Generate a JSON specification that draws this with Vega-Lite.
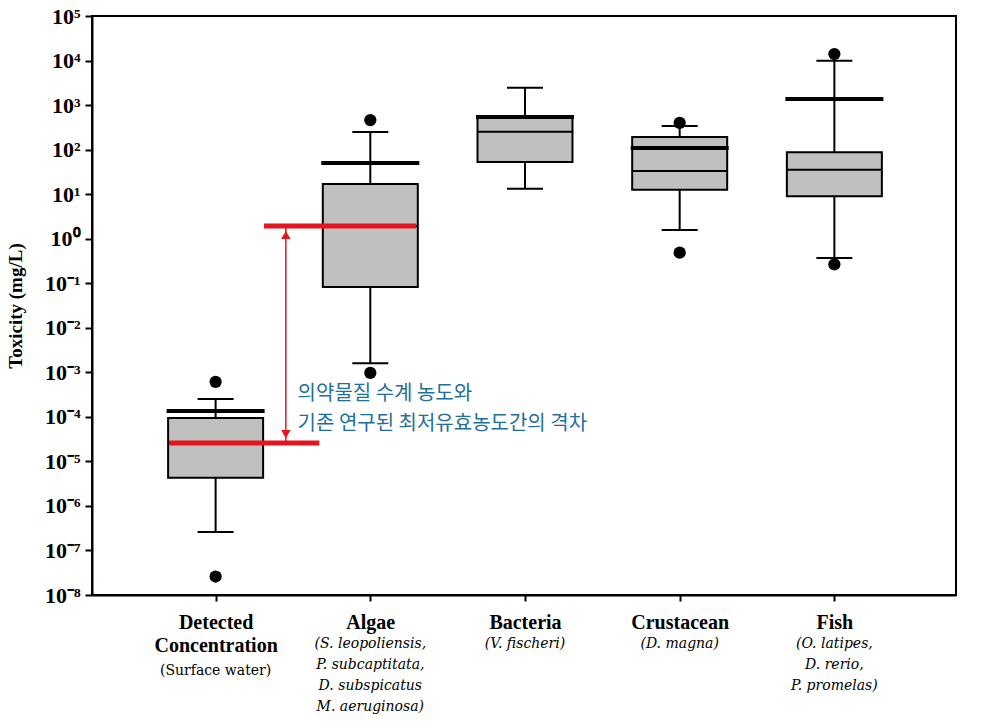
{
  "$schema": "https://vega.github.io/schema/vega-lite/v6.json",
  "autosize": "none",
  "width": 864,
  "height": 579,
  "padding": {"left": 92, "top": 16, "right": 36, "bottom": 128},
  "background": "white",
  "config": {
    "view": {"stroke": "black", "strokeWidth": 2},
    "axis": {"grid": false}
  },
  "datasets": {
    "boxes": [
      {"cat": "Detected Concentration", "x": 1, "lo": 2.6e-7, "q1": 4.3e-6, "med": 2.6e-5, "q3": 9.4e-5, "hi": 2.5e-4, "mean": 1.35e-4},
      {"cat": "Algae", "x": 2, "lo": 1.6e-3, "q1": 0.082, "med": 1.93, "q3": 16.9, "hi": 248, "mean": 50},
      {"cat": "Bacteria", "x": 3, "lo": 13.2, "q1": 52.8, "med": 253, "q3": 545, "hi": 2450, "mean": 540},
      {"cat": "Crustacean", "x": 4, "lo": 1.57, "q1": 12.6, "med": 33, "q3": 192, "hi": 340, "mean": 109},
      {"cat": "Fish", "x": 5, "lo": 0.37, "q1": 8.95, "med": 35.5, "q3": 87, "hi": 9950, "mean": 1370}
    ],
    "outliers": [
      {"x": 1, "v": 6.1e-4}, {"x": 1, "v": 2.6e-8},
      {"x": 2, "v": 460}, {"x": 2, "v": 9.7e-4},
      {"x": 4, "v": 400}, {"x": 4, "v": 0.485},
      {"x": 5, "v": 14000}, {"x": 5, "v": 0.266}
    ],
    "redlines": [
      {"x": 0.70, "x2": 1.671, "y": 2.6e-5},
      {"x": 1.313, "x2": 2.297, "y": 1.93}
    ],
    "arrow": [{"x": 1.454, "y": 1.93, "y2": 2.6e-5}],
    "heads": [
      {"x": 1.454, "y": 1.21, "end": "top"},
      {"x": 1.454, "y": 4.1e-5, "end": "bottom"}
    ],
    "note": [
      {"x": 1.53, "y": 3.2e-4, "t": "의약물질 수계 농도와"},
      {"x": 1.53, "y": 6.8e-5, "t": "기존 연구된 최저유효농도간의 격차"}
    ],
    "subs": [
      {"x": 1, "style": "normal", "t": "(Surface water)"},
      {"x": 2, "style": "italic", "t": "(S. leopoliensis,\nP. subcaptitata,\nD. subspicatus\nM. aeruginosa)"},
      {"x": 3, "style": "italic", "t": "(V. fischeri)"},
      {"x": 4, "style": "italic", "t": "(D. magna)"},
      {"x": 5, "style": "italic", "t": "(O. latipes,\nD. rerio,\nP. promelas)"}
    ]
  },
  "encoding": {
    "x": {
      "field": "x", "type": "quantitative",
      "scale": {"domain": [0.2332, 5.754], "nice": false, "zero": false},
      "axis": {
        "values": [1, 2, 3, 4, 5],
        "title": null,
        "labelExpr": "datum.value == 1 ? ['Detected', 'Concentration'] : datum.value == 2 ? 'Algae' : datum.value == 3 ? 'Bacteria' : datum.value == 4 ? 'Crustacean' : 'Fish'",
        "labelFont": "Liberation Serif",
        "labelFontWeight": "bold",
        "labelFontSize": 20,
        "labelColor": "black",
        "labelLineHeight": 23,
        "labelPadding": 11,
        "labelBaseline": "top",
        "domainColor": "black",
        "domainWidth": 2,
        "tickColor": "black",
        "tickWidth": 2,
        "tickSize": 6
      }
    }
  },
  "layer": [
    {
      "data": {"name": "boxes"},
      "mark": {"type": "rule", "color": "black", "strokeWidth": 2},
      "encoding": {
        "y": {
          "field": "hi", "type": "quantitative",
          "scale": {"type": "log", "domain": [1e-8, 100000], "nice": false},
          "axis": {
            "values": [1e-8, 1e-7, 1e-6, 1e-5, 1e-4, 1e-3, 1e-2, 1e-1, 1, 10, 100, 1000, 10000, 100000],
            "labelExpr": "'10' + ['⁻⁸','⁻⁷','⁻⁶','⁻⁵','⁻⁴','⁻³','⁻²','⁻¹','⁰','¹','²','³','⁴','⁵'][round(log(datum.value)/LN10) + 8]",
            "title": "Toxicity (mg/L)",
            "titleFont": "Liberation Serif",
            "titleFontSize": 19,
            "titleFontWeight": "bold",
            "titleColor": "black",
            "titlePadding": 19,
            "labelFont": "Liberation Serif",
            "labelFontWeight": "bold",
            "labelFontSize": 22,
            "labelColor": "black",
            "labelPadding": 5,
            "domainColor": "black",
            "domainWidth": 2,
            "tickColor": "black",
            "tickWidth": 2,
            "tickSize": 7
          }
        },
        "y2": {"field": "q3"}
      }
    },
    {
      "data": {"name": "boxes"},
      "mark": {"type": "rule", "color": "black", "strokeWidth": 2},
      "encoding": {
        "y": {"field": "q1", "type": "quantitative"},
        "y2": {"field": "lo"}
      }
    },
    {
      "data": {"name": "boxes"},
      "mark": {"type": "bar", "width": 95, "fill": "#c0c0c0", "stroke": "black", "strokeWidth": 2},
      "encoding": {
        "y": {"field": "q1", "type": "quantitative"},
        "y2": {"field": "q3"}
      }
    },
    {
      "data": {"name": "boxes"},
      "mark": {"type": "tick", "orient": "horizontal", "color": "black", "size": 95, "thickness": 2, "opacity": 1},
      "encoding": {"y": {"field": "med", "type": "quantitative"}}
    },
    {
      "data": {"name": "boxes"},
      "mark": {"type": "tick", "orient": "horizontal", "color": "black", "size": 36, "thickness": 2, "opacity": 1},
      "encoding": {"y": {"field": "lo", "type": "quantitative"}}
    },
    {
      "data": {"name": "boxes"},
      "mark": {"type": "tick", "orient": "horizontal", "color": "black", "size": 36, "thickness": 2, "opacity": 1},
      "encoding": {"y": {"field": "hi", "type": "quantitative"}}
    },
    {
      "data": {"name": "boxes"},
      "mark": {"type": "tick", "orient": "horizontal", "color": "black", "size": 98, "thickness": 4, "opacity": 1},
      "encoding": {"y": {"field": "mean", "type": "quantitative"}}
    },
    {
      "data": {"name": "outliers"},
      "mark": {"type": "circle", "color": "black", "size": 150, "opacity": 1},
      "encoding": {"y": {"field": "v", "type": "quantitative"}}
    },
    {
      "data": {"name": "redlines"},
      "mark": {"type": "rule", "color": "#e3161d", "strokeWidth": 5},
      "encoding": {
        "x2": {"field": "x2"},
        "y": {"field": "y", "type": "quantitative"}
      }
    },
    {
      "data": {"name": "arrow"},
      "mark": {"type": "rule", "color": "#e3161d", "strokeWidth": 1.5},
      "encoding": {
        "y": {"field": "y", "type": "quantitative"},
        "y2": {"field": "y2"}
      }
    },
    {
      "data": {"name": "heads"},
      "transform": [{"filter": "datum.end == 'top'"}],
      "mark": {"type": "point", "shape": "triangle-up", "filled": true, "color": "#e3161d", "size": 90, "opacity": 1},
      "encoding": {"y": {"field": "y", "type": "quantitative"}}
    },
    {
      "data": {"name": "heads"},
      "transform": [{"filter": "datum.end == 'bottom'"}],
      "mark": {"type": "point", "shape": "triangle-down", "filled": true, "color": "#e3161d", "size": 90, "opacity": 1},
      "encoding": {"y": {"field": "y", "type": "quantitative"}}
    },
    {
      "data": {"name": "note"},
      "mark": {"type": "text", "align": "left", "baseline": "middle", "font": "Noto Sans CJK KR", "fontSize": 20, "color": "#1f6f9a"},
      "encoding": {
        "y": {"field": "y", "type": "quantitative"},
        "text": {"field": "t"}
      }
    },
    {
      "data": {"name": "subs"},
      "transform": [{"filter": "datum.style == 'normal'"}],
      "mark": {"type": "text", "align": "center", "baseline": "top", "font": "DejaVu Serif", "fontSize": 14, "color": "black", "dy": 69, "clip": false, "lineBreak": "\n", "lineHeight": 21},
      "encoding": {
        "y": {"datum": 1e-8, "type": "quantitative"},
        "text": {"field": "t"}
      }
    },
    {
      "data": {"name": "subs"},
      "transform": [{"filter": "datum.style == 'italic'"}],
      "mark": {"type": "text", "align": "center", "baseline": "top", "font": "DejaVu Serif", "fontSize": 14, "fontStyle": "italic", "color": "black", "dy": 42, "clip": false, "lineBreak": "\n", "lineHeight": 21},
      "encoding": {
        "y": {"datum": 1e-8, "type": "quantitative"},
        "text": {"field": "t"}
      }
    }
  ]
}
